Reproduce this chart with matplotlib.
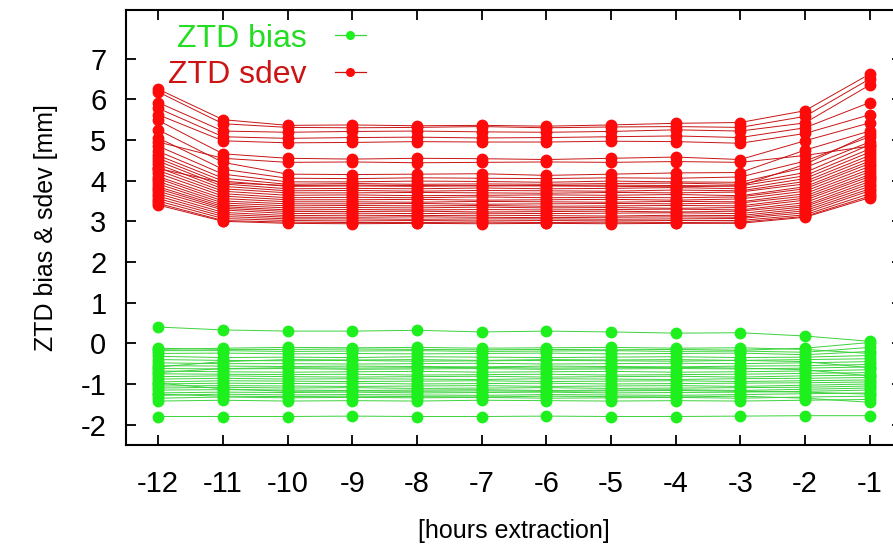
#!/usr/bin/env python3
"""ZTD bias & sdev versus hours of extraction"""

import matplotlib
matplotlib.use('Agg')
import matplotlib.pyplot as plt

plt.rcParams['font.family'] = ['Liberation Sans', 'DejaVu Sans']
plt.rcParams['axes.unicode_minus'] = False

# Color scheme
COLOR_SDEV = '#ff0a0a'
COLOR_SDEV_LINE = '#c81414'
COLOR_BIAS = '#1ef01e'
COLOR_BIAS_LINE = '#3cd23c'

hours = [-12, -11, -10, -9, -8, -7, -6, -5, -4, -3, -2, -1]
hour_labels = ['-12', '-11', '-10', '-9', '-8', '-7', '-6', '-5', '-4', '-3', '-2', '-1']

# ZTD sdev [mm], one row per station, columns follow `hours`
sdev_rows = [
    [6.25, 5.50, 5.36, 5.37, 5.35, 5.36, 5.34, 5.37, 5.41, 5.43, 5.72, 6.62],
    [6.18, 5.40, 5.31, 5.30, 5.31, 5.33, 5.30, 5.32, 5.33, 5.31, 5.58, 6.50],
    [5.92, 5.22, 5.19, 5.21, 5.22, 5.20, 5.19, 5.21, 5.25, 5.22, 5.42, 6.35],
    [5.78, 5.08, 5.04, 5.06, 5.07, 5.05, 5.06, 5.08, 5.10, 5.06, 5.30, 5.92],
    [5.62, 4.98, 4.93, 4.94, 4.96, 4.95, 4.95, 4.97, 4.96, 4.92, 5.16, 5.62],
    [5.48, 4.66, 4.55, 4.53, 4.55, 4.54, 4.52, 4.55, 4.58, 4.52, 4.98, 5.42],
    [5.25, 4.45, 4.16, 4.15, 4.16, 4.17, 4.13, 4.16, 4.19, 4.20, 4.75, 5.22],
    [5.05, 4.28, 4.06, 4.05, 4.07, 4.06, 4.05, 4.07, 4.06, 4.09, 4.48, 5.08],
    [4.85, 4.16, 3.97, 3.97, 3.99, 3.98, 3.96, 3.99, 3.97, 3.96, 4.32, 4.95],
    [4.72, 4.06, 3.91, 3.93, 3.91, 3.92, 3.91, 3.93, 3.94, 3.91, 4.20, 4.88],
    [4.62, 3.99, 3.86, 3.87, 3.86, 3.88, 3.87, 3.86, 3.85, 3.87, 4.12, 4.78],
    [4.55, 3.92, 3.80, 3.81, 3.80, 3.82, 3.80, 3.81, 3.83, 3.80, 4.05, 4.70],
    [4.48, 3.86, 3.75, 3.76, 3.74, 3.76, 3.75, 3.74, 3.77, 3.75, 3.98, 4.62],
    [4.40, 3.80, 3.70, 3.70, 3.71, 3.70, 3.69, 3.71, 3.70, 3.72, 3.92, 4.55],
    [4.32, 3.74, 3.64, 3.65, 3.63, 3.64, 3.65, 3.64, 3.66, 3.63, 3.85, 4.48],
    [4.25, 3.68, 3.58, 3.59, 3.58, 3.60, 3.58, 3.59, 3.58, 3.60, 3.80, 4.42],
    [4.18, 3.62, 3.53, 3.53, 3.54, 3.52, 3.53, 3.54, 3.52, 3.55, 3.74, 4.35],
    [4.10, 3.56, 3.48, 3.48, 3.47, 3.49, 3.48, 3.47, 3.49, 3.48, 3.68, 4.28],
    [4.05, 3.50, 3.43, 3.43, 3.44, 3.42, 3.43, 3.44, 3.43, 3.45, 3.62, 4.22],
    [3.98, 3.45, 3.38, 3.39, 3.38, 3.39, 3.37, 3.38, 3.39, 3.38, 3.57, 4.15],
    [3.92, 3.40, 3.33, 3.34, 3.33, 3.35, 3.33, 3.34, 3.32, 3.34, 3.52, 4.10],
    [3.85, 3.36, 3.28, 3.29, 3.28, 3.29, 3.28, 3.29, 3.30, 3.28, 3.46, 4.04],
    [3.80, 3.32, 3.24, 3.24, 3.25, 3.23, 3.24, 3.25, 3.23, 3.25, 3.40, 3.98],
    [3.74, 3.28, 3.19, 3.20, 3.19, 3.20, 3.19, 3.20, 3.21, 3.19, 3.36, 3.92],
    [3.68, 3.22, 3.14, 3.15, 3.14, 3.15, 3.14, 3.13, 3.15, 3.14, 3.31, 3.86],
    [3.62, 3.17, 3.10, 3.10, 3.11, 3.10, 3.09, 3.10, 3.11, 3.10, 3.26, 3.80],
    [3.56, 3.12, 3.06, 3.06, 3.05, 3.06, 3.06, 3.05, 3.06, 3.07, 3.21, 3.75],
    [3.50, 3.07, 3.02, 3.01, 3.02, 3.01, 3.02, 3.01, 3.02, 3.02, 3.16, 3.68],
    [3.44, 3.02, 2.98, 2.97, 2.97, 2.98, 2.97, 2.98, 2.97, 2.98, 3.12, 3.62],
    [3.40, 3.00, 2.95, 2.94, 2.95, 2.94, 2.95, 2.94, 2.95, 2.95, 3.10, 3.58],
    [4.95, 4.55, 4.45, 4.46, 4.44, 4.45, 4.46, 4.45, 4.47, 4.45, 4.62, 4.85],
    [4.30, 3.95, 3.88, 3.89, 3.88, 3.87, 3.88, 3.89, 3.88, 3.87, 4.40, 5.15],
]

# ZTD bias [mm], one row per station
bias_rows = [
    [0.40, 0.33, 0.30, 0.30, 0.32, 0.28, 0.30, 0.28, 0.25, 0.26, 0.18, 0.05],
    [-0.12, -0.15, -0.15, -0.14, -0.15, -0.16, -0.15, -0.16, -0.15, -0.17, -0.12, 0.02],
    [-0.18, -0.18, -0.20, -0.19, -0.18, -0.20, -0.19, -0.18, -0.20, -0.19, -0.22, -0.10],
    [-0.25, -0.24, -0.26, -0.25, -0.26, -0.25, -0.24, -0.26, -0.25, -0.24, -0.28, -0.20],
    [-0.32, -0.35, -0.34, -0.35, -0.33, -0.34, -0.35, -0.34, -0.33, -0.35, -0.34, -0.30],
    [-0.40, -0.42, -0.43, -0.42, -0.44, -0.43, -0.42, -0.43, -0.44, -0.42, -0.40, -0.38],
    [-0.48, -0.50, -0.50, -0.51, -0.50, -0.49, -0.51, -0.50, -0.49, -0.50, -0.48, -0.45],
    [-0.55, -0.56, -0.57, -0.56, -0.57, -0.58, -0.56, -0.57, -0.58, -0.56, -0.55, -0.52],
    [-0.62, -0.63, -0.62, -0.64, -0.63, -0.62, -0.64, -0.63, -0.62, -0.63, -0.61, -0.58],
    [-0.68, -0.70, -0.71, -0.70, -0.69, -0.71, -0.70, -0.69, -0.71, -0.70, -0.68, -0.65],
    [-0.75, -0.76, -0.77, -0.76, -0.78, -0.77, -0.76, -0.78, -0.77, -0.76, -0.74, -0.72],
    [-0.82, -0.80, -0.82, -0.83, -0.82, -0.81, -0.83, -0.82, -0.81, -0.83, -0.80, -0.78],
    [-0.88, -0.86, -0.88, -0.87, -0.88, -0.89, -0.87, -0.88, -0.89, -0.87, -0.86, -0.84],
    [-0.95, -0.92, -0.93, -0.94, -0.93, -0.92, -0.94, -0.93, -0.92, -0.94, -0.92, -0.90],
    [-1.00, -0.98, -0.99, -0.98, -1.00, -0.99, -0.98, -1.00, -0.99, -0.98, -0.97, -0.95],
    [-1.05, -1.04, -1.05, -1.06, -1.05, -1.04, -1.06, -1.05, -1.04, -1.06, -1.03, -1.00],
    [-1.10, -1.08, -1.10, -1.09, -1.11, -1.10, -1.09, -1.11, -1.10, -1.09, -1.08, -1.05],
    [-1.15, -1.14, -1.15, -1.16, -1.15, -1.14, -1.16, -1.15, -1.14, -1.16, -1.13, -1.10],
    [-1.22, -1.20, -1.21, -1.20, -1.22, -1.21, -1.20, -1.22, -1.21, -1.20, -1.18, -1.15],
    [-1.28, -1.25, -1.27, -1.26, -1.27, -1.28, -1.26, -1.27, -1.28, -1.26, -1.24, -1.22],
    [-1.35, -1.32, -1.34, -1.33, -1.34, -1.33, -1.35, -1.34, -1.33, -1.35, -1.32, -1.30],
    [-1.42, -1.40, -1.42, -1.41, -1.42, -1.40, -1.41, -1.42, -1.41, -1.42, -1.40, -1.38],
    [-1.80, -1.80, -1.80, -1.79, -1.80, -1.80, -1.79, -1.80, -1.80, -1.79, -1.78, -1.78],
    [-0.58, -0.45, -0.40, -0.41, -0.40, -0.42, -0.40, -0.41, -0.40, -0.42, -0.45, -0.60],
    [-0.98, -1.12, -1.18, -1.17, -1.18, -1.17, -1.18, -1.17, -1.16, -1.18, -1.20, -1.25],
    [-0.72, -0.62, -0.60, -0.61, -0.60, -0.59, -0.61, -0.60, -0.59, -0.61, -0.65, -0.80],
    [-1.25, -1.30, -1.31, -1.30, -1.31, -1.32, -1.30, -1.31, -1.32, -1.30, -1.35, -1.45],
    [-0.15, -0.12, -0.10, -0.11, -0.10, -0.12, -0.11, -0.10, -0.12, -0.11, -0.15, -0.25],
]

y_ticks = [-2, -1, 0, 1, 2, 3, 4, 5, 6, 7]

fig = plt.figure(figsize=(8.93, 5.48), dpi=100)
# axes run past the right edge of the figure, as in the original
ax = fig.add_axes([0.141, 0.188, 0.869, 0.794])

for row in bias_rows:
    ax.plot(hours, row, color=COLOR_BIAS_LINE, linewidth=0.7,
            marker='o', markersize=7.5, markerfacecolor=COLOR_BIAS,
            markeredgecolor=COLOR_BIAS, zorder=2)
for row in sdev_rows:
    ax.plot(hours, row, color=COLOR_SDEV_LINE, linewidth=0.7,
            marker='o', markersize=7.5, markerfacecolor=COLOR_SDEV,
            markeredgecolor=COLOR_SDEV, zorder=3)

# legend handles (smaller dots than the data)
h_bias, = ax.plot([], [], color=COLOR_BIAS_LINE, linewidth=0.9, marker='o',
                  markersize=5.5, markerfacecolor=COLOR_BIAS, markeredgecolor=COLOR_BIAS)
h_sdev, = ax.plot([], [], color=COLOR_SDEV_LINE, linewidth=0.9, marker='o',
                  markersize=5.5, markerfacecolor=COLOR_SDEV, markeredgecolor=COLOR_SDEV)
leg = ax.legend([h_bias, h_sdev], ['ZTD bias', 'ZTD sdev'], loc='upper left',
                bbox_to_anchor=(0.050, 0.976), frameon=False, markerfirst=False,
                fontsize=23, handlelength=0.95, handletextpad=0.9,
                labelspacing=0.2, borderpad=0.1, borderaxespad=0.0, numpoints=1)
leg.get_texts()[0].set_color('#22dd22')
leg.get_texts()[1].set_color('#cc1414')

ax.set_xlim(-12.5, -0.5)
ax.set_ylim(-2.5, 8.2)
ax.set_xticks(hours)
ax.set_xticklabels(hour_labels)
ax.set_yticks(y_ticks)

ax.tick_params(axis='both', direction='in', length=7, width=1.3,
               labelsize=21, top=True, right=True)
ax.tick_params(axis='x', pad=18)
ax.tick_params(axis='y', pad=14)
for sp in ax.spines.values():
    sp.set_linewidth(1.5)

ax.set_xlabel('[hours extraction]', fontsize=18, labelpad=15)
ax.set_ylabel('ZTD bias & sdev [mm]', fontsize=18, labelpad=16)

plt.savefig('out.png', dpi=100)
plt.close()
